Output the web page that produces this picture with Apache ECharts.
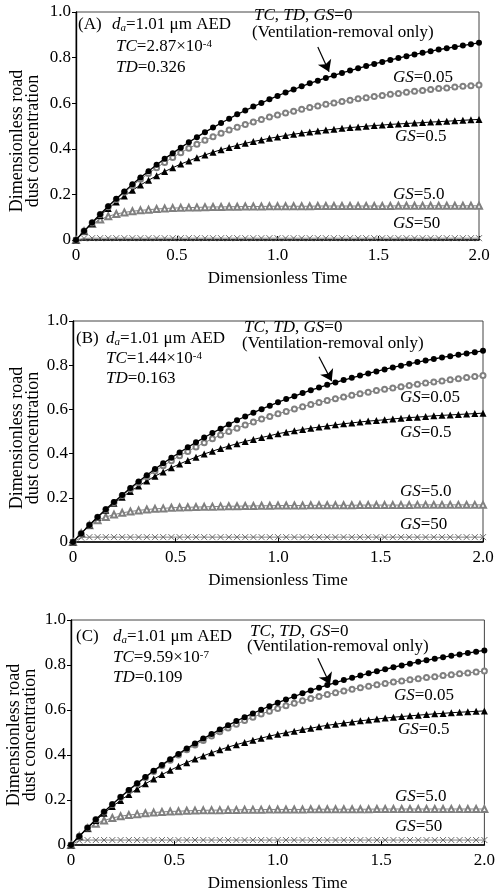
<!DOCTYPE html>
<html>
<head>
<meta charset="utf-8">
<script src="https://cdn.jsdelivr.net/npm/echarts@6/dist/echarts.min.js"></script>
<style>
  html, body { margin: 0; padding: 0; background: #fff; }
  #chart { width: 498px; height: 894px; }
</style>
</head>
<body>
<div id="chart"></div>
<script>
// Dimensionless time samples (one marker per sample)
const timeSteps = [0, 0.04, 0.08, 0.12, 0.16, 0.2, 0.24, 0.28, 0.32, 0.36, 0.4, 0.44, 0.48, 0.52, 0.56, 0.6,
  0.64, 0.68, 0.72, 0.76, 0.8, 0.84, 0.88, 0.92, 0.96, 1.0, 1.04, 1.08, 1.12, 1.16, 1.2, 1.24, 1.28, 1.32,
  1.36, 1.4, 1.44, 1.48, 1.52, 1.56, 1.6, 1.64, 1.68, 1.72, 1.76, 1.8, 1.84, 1.88, 1.92, 1.96, 2.0];

// TC, TD, GS = 0 (ventilation-removal only), same in all three panels
const ventOnly = [0, 0.039, 0.077, 0.113, 0.148, 0.181, 0.213, 0.244, 0.274, 0.302, 0.330, 0.356, 0.381, 0.405,
  0.429, 0.451, 0.473, 0.493, 0.513, 0.532, 0.551, 0.568, 0.585, 0.601, 0.617, 0.632, 0.647, 0.660, 0.674,
  0.687, 0.699, 0.711, 0.722, 0.733, 0.743, 0.753, 0.763, 0.772, 0.781, 0.790, 0.798, 0.806, 0.814, 0.821,
  0.828, 0.835, 0.841, 0.847, 0.853, 0.859, 0.865];

// Panel A (TC = 2.87e-4, TD = 0.326)
const gsA005 = [0, 0.039, 0.076, 0.112, 0.146, 0.178, 0.209, 0.238, 0.266, 0.292, 0.317, 0.340, 0.362, 0.383,
  0.402, 0.420, 0.437, 0.453, 0.468, 0.482, 0.495, 0.507, 0.518, 0.529, 0.539, 0.548, 0.557, 0.565, 0.573,
  0.581, 0.588, 0.595, 0.601, 0.607, 0.613, 0.619, 0.624, 0.629, 0.634, 0.639, 0.643, 0.648, 0.652, 0.656,
  0.660, 0.664, 0.667, 0.671, 0.674, 0.677, 0.680];
const gsA05 = [0, 0.039, 0.074, 0.107, 0.138, 0.167, 0.193, 0.218, 0.241, 0.262, 0.282, 0.300, 0.317, 0.333,
  0.347, 0.361, 0.373, 0.385, 0.396, 0.406, 0.415, 0.424, 0.432, 0.439, 0.446, 0.452, 0.458, 0.464, 0.469,
  0.474, 0.478, 0.482, 0.486, 0.490, 0.493, 0.496, 0.499, 0.502, 0.504, 0.507, 0.509, 0.511, 0.513, 0.515,
  0.517, 0.519, 0.521, 0.523, 0.525, 0.527, 0.529];
const gsA5 = [0, 0.038, 0.070, 0.090, 0.104, 0.114, 0.121, 0.126, 0.130, 0.133, 0.136, 0.138, 0.140, 0.141,
  0.142, 0.143, 0.144, 0.145, 0.145, 0.146, 0.146, 0.147, 0.147, 0.147, 0.148, 0.148, 0.148, 0.148, 0.148,
  0.148, 0.149, 0.149, 0.149, 0.149, 0.149, 0.149, 0.149, 0.149, 0.149, 0.149, 0.150, 0.150, 0.150, 0.150,
  0.150, 0.150, 0.150, 0.150, 0.150, 0.150, 0.150];
const gsA50 = [0, 0.007, 0.008, 0.008, 0.008, 0.008, 0.008, 0.008, 0.008, 0.008, 0.008, 0.008, 0.008, 0.008,
  0.008, 0.008, 0.008, 0.008, 0.008, 0.008, 0.008, 0.008, 0.008, 0.008, 0.008, 0.008, 0.008, 0.008, 0.008,
  0.008, 0.008, 0.008, 0.008, 0.008, 0.008, 0.008, 0.008, 0.008, 0.008, 0.008, 0.008, 0.008, 0.008, 0.008,
  0.008, 0.008, 0.008, 0.008, 0.008, 0.008, 0.008];

// Panel B (TC = 1.44e-4, TD = 0.163)
const gsB005 = [0, 0.039, 0.077, 0.112, 0.147, 0.179, 0.210, 0.240, 0.268, 0.295, 0.321, 0.345, 0.368, 0.390,
  0.410, 0.430, 0.449, 0.467, 0.484, 0.500, 0.515, 0.529, 0.543, 0.556, 0.568, 0.580, 0.591, 0.602, 0.612,
  0.622, 0.631, 0.640, 0.648, 0.656, 0.664, 0.671, 0.678, 0.685, 0.691, 0.697, 0.703, 0.708, 0.714, 0.719,
  0.724, 0.729, 0.734, 0.739, 0.744, 0.749, 0.753];
const gsB05 = [0, 0.040, 0.077, 0.112, 0.144, 0.175, 0.203, 0.229, 0.253, 0.276, 0.298, 0.317, 0.336, 0.353,
  0.369, 0.384, 0.398, 0.411, 0.423, 0.434, 0.445, 0.455, 0.464, 0.473, 0.481, 0.490, 0.497, 0.503, 0.509,
  0.515, 0.520, 0.525, 0.530, 0.535, 0.539, 0.543, 0.547, 0.550, 0.553, 0.557, 0.560, 0.563, 0.565, 0.568,
  0.571, 0.573, 0.575, 0.577, 0.579, 0.581, 0.583];
const gsB5 = [0, 0.040, 0.076, 0.098, 0.113, 0.124, 0.132, 0.138, 0.143, 0.147, 0.150, 0.152, 0.155, 0.156,
  0.157, 0.158, 0.159, 0.160, 0.161, 0.162, 0.162, 0.163, 0.163, 0.164, 0.164, 0.165, 0.165, 0.165, 0.165,
  0.166, 0.166, 0.166, 0.166, 0.166, 0.166, 0.167, 0.167, 0.167, 0.167, 0.167, 0.167, 0.167, 0.168, 0.168,
  0.168, 0.168, 0.168, 0.168, 0.168, 0.168, 0.168];
const gsB50 = [0, 0.020, 0.022, 0.022, 0.022, 0.022, 0.022, 0.022, 0.022, 0.022, 0.022, 0.022, 0.022, 0.022,
  0.022, 0.022, 0.022, 0.022, 0.022, 0.022, 0.022, 0.022, 0.022, 0.022, 0.022, 0.022, 0.022, 0.022, 0.022,
  0.022, 0.022, 0.022, 0.022, 0.022, 0.022, 0.022, 0.022, 0.022, 0.022, 0.022, 0.022, 0.022, 0.022, 0.022,
  0.022, 0.022, 0.022, 0.022, 0.022, 0.022, 0.022];

// Panel C (TC = 9.59e-7, TD = 0.109)
const gsC005 = [0, 0.039, 0.077, 0.113, 0.147, 0.180, 0.212, 0.242, 0.271, 0.299, 0.327, 0.352, 0.377, 0.400,
  0.423, 0.444, 0.465, 0.484, 0.503, 0.520, 0.537, 0.553, 0.568, 0.582, 0.595, 0.607, 0.619, 0.630, 0.641,
  0.651, 0.660, 0.669, 0.677, 0.685, 0.692, 0.699, 0.706, 0.712, 0.718, 0.724, 0.729, 0.734, 0.739, 0.744,
  0.748, 0.753, 0.757, 0.761, 0.765, 0.769, 0.773];
const gsC05 = [0, 0.039, 0.075, 0.109, 0.141, 0.171, 0.198, 0.225, 0.249, 0.272, 0.293, 0.313, 0.332, 0.350,
  0.366, 0.382, 0.396, 0.410, 0.423, 0.435, 0.446, 0.456, 0.466, 0.475, 0.484, 0.492, 0.499, 0.506, 0.513,
  0.519, 0.526, 0.532, 0.537, 0.542, 0.547, 0.552, 0.556, 0.560, 0.564, 0.568, 0.571, 0.574, 0.577, 0.580,
  0.583, 0.585, 0.588, 0.590, 0.592, 0.594, 0.596];
const gsC5 = [0, 0.039, 0.074, 0.095, 0.109, 0.120, 0.128, 0.133, 0.137, 0.141, 0.144, 0.147, 0.149, 0.150,
  0.152, 0.153, 0.154, 0.155, 0.155, 0.156, 0.156, 0.157, 0.157, 0.157, 0.158, 0.158, 0.158, 0.158, 0.158,
  0.159, 0.159, 0.159, 0.159, 0.159, 0.159, 0.159, 0.159, 0.160, 0.160, 0.160, 0.160, 0.160, 0.160, 0.160,
  0.160, 0.160, 0.160, 0.160, 0.160, 0.160, 0.160];
const gsC50 = [0, 0.020, 0.022, 0.022, 0.022, 0.022, 0.022, 0.022, 0.022, 0.022, 0.022, 0.022, 0.022, 0.022,
  0.022, 0.022, 0.022, 0.022, 0.022, 0.022, 0.022, 0.022, 0.022, 0.022, 0.022, 0.022, 0.022, 0.022, 0.022,
  0.022, 0.022, 0.022, 0.022, 0.022, 0.022, 0.022, 0.022, 0.022, 0.022, 0.022, 0.022, 0.022, 0.022, 0.022,
  0.022, 0.022, 0.022, 0.022, 0.022, 0.022, 0.022];

// Axis tick labels
const xTickLabels = ['0', '0.5', '1.0', '1.5', '2.0'];
const yTickLabels = ['0', '0.2', '0.4', '0.6', '0.8', '1.0'];

const SERIF = '"Liberation Serif", "Times New Roman", serif';
const FS = 17;
const GRAY = '#808080';
const CROSS = 'path://M0,0L10,10M10,0L0,10';

const panels = [
  {
    tag: '(A)', tc: '2.87×10', tcExp: '-4', td: '0.326',
    grid: { left: 76, top: 12, width: 403, height: 228 },
    gs: [ventOnly, gsA005, gsA05, gsA5, gsA50],
    arrow: [[1.20, 0.846], [1.256, 0.738]],
    tagPos: [78, 25], daPos: [112, 25], tcPos: [116, 47], tdPos: [116, 68],
    headPos: [254, 16], ventPos: [252, 33],
    gsPos: [[393, 78], [395, 137], [393, 195], [393, 224]],
    yNamePos: [25, 141]
  },
  {
    tag: '(B)', tc: '1.44×10', tcExp: '-4', td: '0.163',
    grid: { left: 73, top: 321, width: 410, height: 221 },
    gs: [ventOnly, gsB005, gsB05, gsB5, gsB50],
    arrow: [[1.20, 0.838], [1.262, 0.728]],
    tagPos: [76, 339], daPos: [106, 339], tcPos: [106, 359], tdPos: [106, 379],
    headPos: [244, 328], ventPos: [242, 344],
    gsPos: [[400, 398], [400, 433], [400, 492], [400, 525]],
    yNamePos: [25, 438]
  },
  {
    tag: '(C)', tc: '9.59×10', tcExp: '-7', td: '0.109',
    grid: { left: 71, top: 620, width: 416, height: 225 },
    gs: [ventOnly, gsC005, gsC05, gsC5, gsC50],
    arrow: [[1.194, 0.83], [1.253, 0.714]],
    tagPos: [76, 637], daPos: [113, 637], tcPos: [113, 658], tdPos: [113, 678],
    headPos: [250, 632], ventPos: [247, 647],
    gsPos: [[394, 696], [398, 730], [395, 797], [395, 827]],
    yNamePos: [22, 735]
  }
];

const gsNames = ['0.05', '0.5', '5.0', '50'];

const rich = {
  n: { fontFamily: SERIF, fontSize: FS, color: '#000' },
  i: { fontFamily: SERIF, fontSize: FS, fontStyle: 'italic', color: '#000' },
  sub: { fontFamily: SERIF, fontSize: 11, fontStyle: 'italic', verticalAlign: 'bottom', color: '#000' },
  sup: { fontFamily: SERIF, fontSize: 11, verticalAlign: 'top', color: '#000' }
};

function label(x, y, text) {
  return {
    type: 'text', x: x, y: y, silent: true,
    style: {
      text: text, rich: rich, fontFamily: SERIF, fontSize: FS, fill: '#000',
      textAlign: 'left', textVerticalAlign: 'middle'
    }
  };
}

const pairs = vals => timeSteps.map((t, i) => [t, vals[i]]);

const grids = [], xAxes = [], yAxes = [], series = [], graphics = [];

panels.forEach((p, k) => {
  grids.push(Object.assign({ show: true, borderColor: '#444', borderWidth: 1, containLabel: false }, p.grid));

  xAxes.push({
    gridIndex: k, type: 'value', min: 0, max: 2, interval: 0.5,
    name: 'Dimensionless Time', nameLocation: 'middle', nameGap: 30,
    nameTextStyle: { fontFamily: SERIF, fontSize: FS, color: '#000' },
    axisLine: { show: true, onZero: false, lineStyle: { color: '#000', width: 1.6 } },
    axisTick: { show: true, inside: true, length: 4, lineStyle: { color: '#000' } },
    axisLabel: {
      fontFamily: SERIF, fontSize: FS, color: '#000', margin: 7,
      formatter: v => xTickLabels[Math.round(v / 0.5)]
    },
    splitLine: { show: false }
  });

  yAxes.push({
    gridIndex: k, type: 'value', min: 0, max: 1, interval: 0.2,
    axisLine: { show: true, onZero: false, lineStyle: { color: '#000', width: 1.4 } },
    axisTick: { show: true, inside: false, length: 4, lineStyle: { color: '#000' } },
    axisLabel: {
      fontFamily: SERIF, fontSize: FS, color: '#000', margin: 5,
      formatter: v => yTickLabels[Math.round(v / 0.2)]
    },
    splitLine: { show: false }
  });

  const common = { type: 'line', xAxisIndex: k, yAxisIndex: k, showSymbol: true, showAllSymbol: true, silent: true, animation: false };

  series.push(Object.assign({}, common, {
    name: 'GS=50', data: pairs(p.gs[4]), symbol: CROSS, symbolSize: 6,
    lineStyle: { color: GRAY, width: 1 },
    itemStyle: { color: 'rgba(0,0,0,0)', borderColor: '#6a6a6a', borderWidth: 1 }, z: 2
  }));
  series.push(Object.assign({}, common, {
    name: 'GS=5.0', data: pairs(p.gs[3]), symbol: 'emptyTriangle', symbolSize: 6,
    lineStyle: { color: GRAY, width: 1 },
    itemStyle: { color: GRAY, borderColor: GRAY, borderWidth: 0.9 }, z: 3
  }));
  series.push(Object.assign({}, common, {
    name: 'GS=0.5', data: pairs(p.gs[2]), symbol: 'triangle', symbolSize: 7,
    lineStyle: { color: '#000', width: 1 },
    itemStyle: { color: '#000' }, z: 4
  }));
  series.push(Object.assign({}, common, {
    name: 'GS=0.05', data: pairs(p.gs[1]), symbol: 'emptyCircle', symbolSize: 5,
    lineStyle: { color: GRAY, width: 1 },
    itemStyle: { color: GRAY, borderColor: GRAY, borderWidth: 0.9 }, z: 5
  }));
  series.push(Object.assign({}, common, {
    name: 'GS=0', data: pairs(p.gs[0]), symbol: 'circle', symbolSize: 6,
    lineStyle: { color: '#000', width: 1.3 },
    itemStyle: { color: '#000' }, z: 6,
    markLine: {
      silent: true, animation: false,
      symbol: ['none', 'arrow'], symbolSize: 11,
      label: { show: false },
      lineStyle: { color: '#000', width: 1.2, type: 'solid' },
      data: [[{ coord: p.arrow[0] }, { coord: p.arrow[1] }]]
    }
  }));

  // panel annotations
  graphics.push(label(p.tagPos[0], p.tagPos[1], '{n|' + p.tag + '}'));
  graphics.push(label(p.daPos[0], p.daPos[1], '{i|d}{sub|a}{n|=1.01 μm AED}'));
  graphics.push(label(p.tcPos[0], p.tcPos[1], '{i|TC}{n|=' + p.tc + '}{sup|' + p.tcExp + '}'));
  graphics.push(label(p.tdPos[0], p.tdPos[1], '{i|TD}{n|=' + p.td + '}'));
  graphics.push(label(p.headPos[0], p.headPos[1], '{i|TC}{n|, }{i|TD}{n|, }{i|GS}{n|=0}'));
  graphics.push(label(p.ventPos[0], p.ventPos[1], '{n|(Ventilation-removal only)}'));
  gsNames.forEach((g, j) => {
    graphics.push(label(p.gsPos[j][0], p.gsPos[j][1], '{i|GS}{n|=' + g + '}'));
  });
  graphics.push({
    type: 'text', x: p.yNamePos[0], y: p.yNamePos[1], rotation: Math.PI / 2, silent: true,
    style: {
      text: 'Dimensionless road\ndust concentration', fontFamily: SERIF, fontSize: 18,
      lineHeight: 16, fill: '#000', textAlign: 'center', textVerticalAlign: 'middle'
    }
  });
});

const chart = echarts.init(document.getElementById('chart'), null, { renderer: 'canvas' });
chart.setOption({
  backgroundColor: '#fff',
  animation: false,
  grid: grids,
  xAxis: xAxes,
  yAxis: yAxes,
  series: series,
  graphic: graphics
});
</script>
</body>
</html>
